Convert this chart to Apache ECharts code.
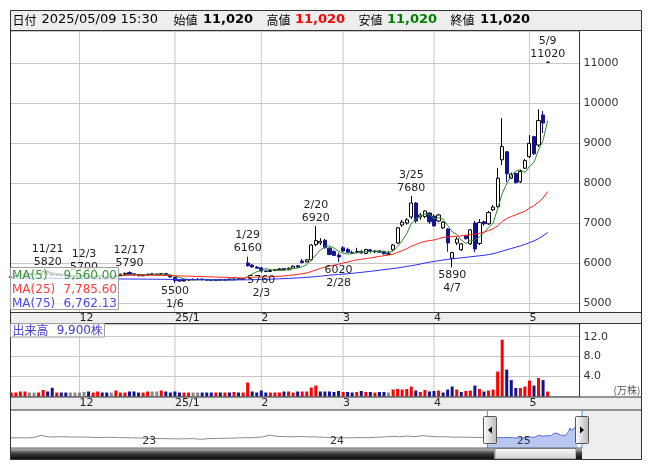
<!DOCTYPE html>
<html><head><meta charset="utf-8">
<script src="https://cdn.jsdelivr.net/npm/echarts@6/dist/echarts.min.js"></script>
<style>html,body{margin:0;padding:0;background:#fff}#c{width:653px;height:470px}</style>
</head><body><div id="c"></div>
<script>
// ---------------- data ----------------
const dates = [
'2024/11/11','2024/11/12','2024/11/13','2024/11/14','2024/11/15','2024/11/18','2024/11/19','2024/11/20','2024/11/21','2024/11/22','2024/11/25','2024/11/26','2024/11/27','2024/11/28','2024/11/29',
'2024/12/02','2024/12/03','2024/12/04','2024/12/05','2024/12/06','2024/12/09','2024/12/10','2024/12/11','2024/12/12','2024/12/13','2024/12/16','2024/12/17','2024/12/18','2024/12/19','2024/12/20','2024/12/23','2024/12/24','2024/12/25','2024/12/26','2024/12/27','2024/12/30',
'2025/01/06','2025/01/07','2025/01/08','2025/01/09','2025/01/10','2025/01/14','2025/01/15','2025/01/16','2025/01/17','2025/01/20','2025/01/21','2025/01/22','2025/01/23','2025/01/24','2025/01/27','2025/01/28','2025/01/29','2025/01/30','2025/01/31',
'2025/02/03','2025/02/04','2025/02/05','2025/02/06','2025/02/07','2025/02/10','2025/02/12','2025/02/13','2025/02/14','2025/02/17','2025/02/18','2025/02/19','2025/02/20','2025/02/21','2025/02/25','2025/02/26','2025/02/27','2025/02/28',
'2025/03/03','2025/03/04','2025/03/05','2025/03/06','2025/03/07','2025/03/10','2025/03/11','2025/03/12','2025/03/13','2025/03/14','2025/03/17','2025/03/18','2025/03/19','2025/03/21','2025/03/24','2025/03/25','2025/03/26','2025/03/27','2025/03/28','2025/03/31',
'2025/04/01','2025/04/02','2025/04/03','2025/04/04','2025/04/07','2025/04/08','2025/04/09','2025/04/10','2025/04/11','2025/04/14','2025/04/15','2025/04/16','2025/04/17','2025/04/18','2025/04/21','2025/04/22','2025/04/23','2025/04/24','2025/04/25','2025/04/28','2025/04/30',
'2025/05/01','2025/05/02','2025/05/07','2025/05/08','2025/05/09'];
const timeOfDay = '15:30';

const opens = [5640,5660,5680,5700,5720,5710,5720,5740,5790,5750,5700,5710,5690,5670,5670,
5660,5670,5670,5650,5660,5680,5660,5650,5660,5690,5720,5760,5730,5710,5680,5700,5730,5720,5720,5740,5690,
5640,5570,5550,5570,5590,5590,5600,5590,5570,5560,5590,5570,5600,5580,5610,5590,6000,5950,5900,
5880,5800,5790,5810,5830,5860,5830,5870,5930,6050,6030,6080,6460,6500,6570,6370,6290,6200,
6380,6340,6260,6270,6290,6240,6330,6280,6300,6290,6220,6330,6500,6950,7000,7150,7500,7150,7160,7250,
7170,7050,6880,6850,6120,6500,6330,6680,6480,7000,6490,7030,6980,7330,7410,8580,8780,8120,8240,8030,8370,
8660,9160,8950,9700,11020];
const highs = [5680,5700,5720,5740,5740,5730,5760,5800,5820,5760,5720,5720,5700,5690,5680,
5680,5700,5680,5670,5690,5690,5670,5670,5700,5730,5760,5790,5740,5720,5710,5730,5740,5730,5750,5750,5700,
5650,5590,5590,5600,5610,5620,5610,5600,5590,5600,5600,5600,5610,5610,5620,5620,6160,5970,5920,
5900,5830,5830,5850,5870,5870,5890,5940,5950,6100,6100,6470,6920,6620,6600,6400,6320,6260,
6420,6380,6310,6380,6330,6350,6350,6320,6330,6310,6300,6470,6900,7080,7120,7680,7520,7250,7320,7270,
7220,7230,7050,6870,6280,6650,6500,6700,6850,7050,7100,7060,7300,7450,8370,9620,8800,8260,8260,8330,8600,
9200,9180,9840,9800,11020];
const lows = [5620,5650,5670,5690,5700,5700,5710,5730,5750,5690,5680,5680,5660,5660,5650,
5650,5660,5640,5640,5650,5650,5640,5640,5650,5680,5710,5710,5690,5670,5670,5690,5710,5700,5710,5690,5640,
5500,5530,5540,5560,5570,5580,5570,5560,5550,5550,5560,5560,5570,5570,5580,5580,5910,5890,5860,
5760,5770,5780,5800,5820,5810,5820,5860,5880,5990,6010,6060,6420,6450,6360,6200,6170,6020,
6280,6250,6230,6250,6230,6220,6260,6250,6250,6210,6210,6310,6480,6900,6960,7100,7000,7080,7120,6980,
6900,7020,6850,6280,5890,6450,6300,6580,6450,6270,6450,6930,6950,7300,7380,8450,8020,8100,7990,8000,8350,
8620,8700,8900,9250,11020];
const closes = [5660,5680,5700,5720,5720,5720,5740,5790,5760,5700,5710,5690,5670,5670,5670,
5670,5670,5650,5660,5680,5660,5650,5650,5690,5720,5740,5720,5700,5680,5700,5720,5720,5720,5730,5700,5650,
5560,5550,5570,5590,5590,5590,5580,5570,5560,5580,5570,5590,5580,5600,5590,5610,5930,5900,5870,
5800,5790,5810,5830,5850,5830,5870,5920,5900,6010,6080,6450,6560,6540,6380,6210,6190,6150,
6300,6270,6250,6290,6250,6340,6290,6300,6270,6230,6230,6450,6880,7020,7080,7500,7050,7200,7300,7030,
6930,7200,7020,6500,6260,6600,6480,6610,6830,6350,7010,6980,7260,7400,8120,8910,8230,8220,8010,8290,8560,
8990,8730,9560,9500,11020];
// volume in 万株
const volumes = [0.8,0.8,1.0,1.0,0.8,0.8,0.8,1.3,1.0,1.75,
0.8,0.8,0.8,0.8,0.8,0.8,0.9,1.0,0.8,1.0,
0.8,0.8,0.8,1.2,0.8,0.8,1.0,1.0,0.8,0.8,
1.0,1.0,1.0,1.2,1.0,0.8,1.0,0.8,0.8,0.8,
0.8,0.8,0.8,0.8,0.8,0.8,0.8,0.8,0.8,0.9,
0.8,0.8,2.8,1.0,0.8,1.2,0.8,0.8,0.8,0.8,
1.0,1.0,0.8,1.0,1.0,1.0,1.8,2.2,1.0,1.0,
1.0,0.9,1.1,0.9,0.9,0.8,0.9,1.1,0.9,0.9,
0.8,0.9,0.9,0.8,1.4,1.5,1.4,1.5,2.0,1.2,
0.9,1.3,1.0,1.1,1.2,0.8,1.4,2.0,1.4,0.9,
1.1,1.2,2.2,1.5,1.0,1.2,1.4,5.0,11.4,5.4,
3.3,1.7,1.7,2.0,3.2,2.2,3.7,3.3,0.99];
// 75-day moving average
const ma75 = [5622,5622,5621,5621,5620,5620,5619,5619,5618,5617,
5616,5615,5614,5613,5612,5611,5610,5608,5607,5606,
5605,5604,5603,5602,5601,5600,5599,5598,5598,5597,
5596,5595,5594,5593,5592,5590,5588,5587,5586,5585,
5584,5583,5582,5581,5580,5580,5579,5579,5578,5578,
5578,5578,5580,5582,5585,5588,5592,5596,5600,5605,
5610,5615,5620,5626,5633,5641,5650,5660,5671,5683,
5695,5705,5714,5722,5730,5742,5754,5766,5779,5792,
5805,5820,5834,5848,5862,5877,5895,5913,5932,5951,
5975,5999,6020,6040,6058,6074,6089,6104,6117,6129,
6142,6155,6168,6180,6193,6210,6232,6262,6296,6330,
6362,6394,6428,6466,6508,6553,6610,6680,6762.13];
const highMarks = ['2024/11/21','2024/12/03','2024/12/17','2025/01/29','2025/02/20','2025/03/25','2025/05/09'];
const lowMarks = ['2025/01/06','2025/02/03','2025/02/28','2025/04/07'];
// navigator: long history sampled every 10 trading days, then the shown range
const navHistory = [5600,5620,5580,5700,6400,5900,5950,6000,5850,5900,5850,5700,5750,5800,5700,5650,5600,5550,5400,5350,5350,5300,5250,5300,5350,5100,5350,5400,5450,5500,5600,5650,5700,5900,6500,6100,6000,5950,6050,5950,5900,5800,5700,5650,5600,5650,5700,5650,5800,5900,6100,5950,6200,6000,6350,6100,5950,6000,5800,5850,5800,5750,5700];
const navYearLabels = ['23','24','25'];
const navYearTicks = [170,416,661];
const NAV_STEP = 10, NAV_OFFSET = 625, NAV_LEN = 750;
const BLANK_SLOTS = 6;

// ---------------- derived ----------------
const N = dates.length;
const cats = dates.concat(Array.from({length: BLANK_SLOTS}, (_, k) => 'blank' + k));
const monthStart = cats.map((d, i) => i > 0 && i < N && d.slice(5, 7) !== dates[i - 1].slice(5, 7));
const monthFn = (i) => !!monthStart[i];
const monthLabel = (i) => {
  if (!monthStart[i]) return '';
  const m = +dates[i].slice(5, 7);
  return m === 1 ? dates[i].slice(2, 4) + '/1' : String(m);
};
function sma(n) {
  return closes.map((c, i) => {
    if (i < n - 1) return null;
    let s = 0; for (let k = i - n + 1; k <= i; k++) s += closes[k];
    return s / n;
  });
}
const ma5 = sma(5), ma25 = sma(25);
const md = (d) => (+d.slice(5, 7)) + '/' + (+d.slice(8, 10));
const fmt2 = (v) => v.toLocaleString('en-US', {minimumFractionDigits: 2, maximumFractionDigits: 2});
const fmt0 = (v) => Math.round(v).toLocaleString('en-US');

const RED = '#ff0000', BLUE = '#14148c', GRAY = '#8a8a8a';
const volColor = (i) => {
  if (i === 0) return closes[0] >= opens[0] ? RED : BLUE;
  return closes[i] > closes[i - 1] ? RED : (closes[i] < closes[i - 1] ? BLUE : GRAY);
};
const candleData = dates.map((d, i) => [opens[i], closes[i], lows[i], highs[i]]);
const markData = highMarks.map(d => {
  const i = dates.indexOf(d);
  return {coord: [d, highs[i]], label: {position: 'top', formatter: md(d) + '\n' + highs[i]}};
}).concat(lowMarks.map(d => {
  const i = dates.indexOf(d);
  return {coord: [d, lows[i]], label: {position: 'bottom', formatter: lows[i] + '\n' + md(d)}};
}));

const navCats = Array.from({length: NAV_LEN}, (_, i) => 'n' + i);
const navHist = new Array(NAV_LEN).fill(null);
navHistory.forEach((v, k) => { navHist[k * NAV_STEP] = v; });
navHist[NAV_OFFSET] = closes[0];
const navSel = new Array(NAV_LEN).fill(null);
closes.forEach((c, i) => { navSel[NAV_OFFSET + i] = c; });

const PRICE_MIN = 4775, PRICE_MAX = 11800, VOL_MAX = 14.55, NAV_MIN = 2200, NAV_MAX = 14600;
// full-height marker bars used as vertical grid lines at month starts / navigator range edges
const monthBarsPrice = cats.map((c, i) => monthStart[i] ? PRICE_MAX : null);
const monthBarsVol = cats.map((c, i) => monthStart[i] ? VOL_MAX : null);
const navEdgeBars = navCats.map((c, k) => (k === NAV_OFFSET || k === NAV_LEN - 1) ? NAV_MAX : null);

const L = N - 1;
const GRID = '#c8c8c8';
const FONT = '"DejaVu Sans", sans-serif';
const JFONT = '"Noto Sans CJK JP", sans-serif';

function txt(x, y, text, fill, font, align) {
  return {type: 'text', x: x, y: y, z: 30,
    style: {text: text, fill: fill, font: font, textAlign: align || 'left', textVerticalAlign: 'middle', align: align || 'left', verticalAlign: 'middle'}};
}
function hline(y, x1, x2, c) { return {type: 'line', z: 20, shape: {x1: x1, y1: y, x2: x2, y2: y}, style: {stroke: c || '#333', lineWidth: 1}}; }
function vline(x, y1, y2, c) { return {type: 'line', z: 20, shape: {x1: x, y1: y1, x2: x, y2: y2}, style: {stroke: c || '#333', lineWidth: 1}}; }
const darkGrad = {type: 'linear', x: 0, y: 0, x2: 0, y2: 1, colorStops: [{offset: 0, color: '#c8c8c8'}, {offset: 0.5, color: '#3a3a3a'}, {offset: 1, color: '#0a0a0a'}]};
const thumbGrad = {type: 'linear', x: 0, y: 0, x2: 0, y2: 1, colorStops: [{offset: 0, color: '#fbfbfb'}, {offset: 1, color: '#cfcfcf'}]};
const handleGrad = {type: 'linear', x: 0, y: 0, x2: 1, y2: 0, colorStops: [{offset: 0, color: '#ffffff'}, {offset: 1, color: '#b8b8b8'}]};

const graphics = [
  {type: 'rect', z: -1, shape: {x: 10.5, y: 10.5, width: 631, height: 19.5}, style: {fill: '#eeeeee'}},
  {type: 'rect', z: -1, shape: {x: 10.5, y: 312.5, width: 631, height: 11}, style: {fill: '#eeeeee'}},
  {type: 'rect', z: -1, shape: {x: 10.5, y: 397, width: 631, height: 13}, style: {fill: '#eeeeee'}},
  {type: 'rect', z: -1, shape: {x: 582, y: 410, width: 59.5, height: 49.5}, style: {fill: '#eeeeee'}},
  {type: 'rect', z: 20, shape: {x: 10.5, y: 448, width: 484, height: 11.5}, style: {fill: darkGrad}},
  {type: 'rect', z: 20, shape: {x: 495, y: 448.5, width: 81, height: 10.5}, style: {fill: thumbGrad, stroke: '#8a8a8a', lineWidth: 1}},
  {type: 'rect', z: 20, shape: {x: 576, y: 448, width: 6, height: 11.5}, style: {fill: darkGrad}},
  hline(30.5, 10.5, 641.5), hline(312.5, 10.5, 641.5), hline(323.5, 10.5, 641.5),
  hline(397, 10.5, 641.5), hline(410, 10.5, 641.5), hline(448, 10.5, 582, '#666'),
  vline(579.5, 30.5, 312.5), vline(579.5, 323.5, 397),
  {type: 'rect', z: 21, shape: {x: 10.5, y: 10.5, width: 631, height: 449}, style: {fill: 'none', stroke: '#333', lineWidth: 1}},
  txt(12.5, 20, '日付', '#000', '12px ' + JFONT),
  txt(41.5, 20, dates[L] + ' ' + timeOfDay, '#000', '13px ' + FONT),
  txt(173.5, 20, '始値', '#000', '12px ' + JFONT),
  txt(203, 20, fmt0(opens[L]), '#000', 'bold 13px ' + FONT),
  txt(266.5, 20, '高値', '#000', '12px ' + JFONT),
  txt(295, 20, fmt0(highs[L]), '#ff0000', 'bold 13px ' + FONT),
  txt(358.5, 20, '安値', '#000', '12px ' + JFONT),
  txt(387, 20, fmt0(lows[L]), '#008000', 'bold 13px ' + FONT),
  txt(450.5, 20, '終値', '#000', '12px ' + JFONT),
  txt(480, 20, fmt0(closes[L]), '#000', 'bold 13px ' + FONT),
  {type: 'rect', z: 25, shape: {x: 10.5, y: 267.5, width: 108, height: 42}, style: {fill: 'rgba(255,255,255,0.72)', stroke: '#a0a0a0', lineWidth: 1}},
  txt(12, 276, 'MA(5)', '#3c963c', '12px ' + FONT),
  txt(117, 276, fmt2(ma5[L]), '#3c963c', '12px ' + FONT, 'right'),
  txt(12, 290, 'MA(25)', '#ff3c3c', '12px ' + FONT),
  txt(117, 290, fmt2(ma25[L]), '#ff3c3c', '12px ' + FONT, 'right'),
  txt(12, 303.5, 'MA(75)', '#4a4af0', '12px ' + FONT),
  txt(117, 303.5, fmt2(ma75[L]), '#4a4af0', '12px ' + FONT, 'right'),
  {type: 'rect', z: 25, shape: {x: 10.5, y: 323.5, width: 94, height: 13.5}, style: {fill: 'rgba(255,255,255,0.8)', stroke: '#a0a0a0', lineWidth: 1}},
  txt(12.5, 330.5, '出来高', '#4040c0', '12px ' + JFONT),
  txt(103, 330.5, fmt0(volumes[L] * 10000) + '株', '#4040c0', '12px ' + FONT, 'right'),
  txt(627, 390.5, '(万株)', '#555', '10px ' + JFONT, 'center'),
  {type: 'rect', z: 26, shape: {x: 483.5, y: 416.5, width: 13, height: 27, r: 1}, style: {fill: handleGrad, stroke: '#555', lineWidth: 1}},
  {type: 'polygon', z: 27, shape: {points: [[488, 430], [492, 426.5], [492, 433.5]]}, style: {fill: '#000'}},
  {type: 'rect', z: 26, shape: {x: 575.5, y: 416.5, width: 13, height: 27, r: 1}, style: {fill: handleGrad, stroke: '#555', lineWidth: 1}},
  {type: 'polygon', z: 27, shape: {points: [[584, 430], [580, 426.5], [580, 433.5]]}, style: {fill: '#000'}}
];

const catXAxis = (gi, showLabels) => ({
  gridIndex: gi, type: 'category', data: cats, boundaryGap: false, show: showLabels,
  axisLine: {show: false}, axisTick: {show: false},
  splitLine: {show: false},
  axisLabel: {show: showLabels, interval: monthFn, formatter: (v, i) => monthLabel(i), align: 'left', margin: 1,
    fontSize: 11, fontFamily: FONT, color: '#222'}
});

const GRIDS = [
  {left: 10.5, right: 73.5, top: 31, height: 281},
  {left: 11.3, right: 78.1, top: 31, height: 281},
  {left: 10.5, right: 73.5, top: 324, height: 72.5},
  {left: 11.3, right: 78.1, top: 324, height: 72.5},
  {left: 10.5, right: 71, top: 411, height: 37}
];

const option = {
  animation: false,
  backgroundColor: '#ffffff',
  textStyle: {fontFamily: FONT},
  grid: GRIDS.map(g => Object.assign({containLabel: false, outerBoundsMode: 'none'}, g)),
  xAxis: [
    {gridIndex: 0, type: 'value', min: 0, max: 1, show: false},
    catXAxis(1, true),
    {gridIndex: 2, type: 'value', min: 0, max: 1, show: false},
    catXAxis(3, true),
    {gridIndex: 4, type: 'category', data: navCats, boundaryGap: false, z: 10,
     axisLine: {show: false}, axisTick: {show: false}, splitLine: {show: false},
     axisLabel: {inside: true, interval: (i) => navYearTicks.indexOf(i) >= 0,
       formatter: (v, i) => { const k = navYearTicks.indexOf(i); return k >= 0 ? navYearLabels[k] : ''; },
       align: 'left', margin: 1, padding: [0, 0, 0, 2], fontSize: 11, fontFamily: FONT, color: '#333'}},
    // hidden twins for the grid-line bars (separate bar layout)
    catXAxis(1, false),
    catXAxis(3, false),
    {gridIndex: 4, type: 'category', data: navCats, boundaryGap: false, show: false}
  ],
  yAxis: [
    {gridIndex: 0, type: 'value', min: PRICE_MIN, max: PRICE_MAX, minInterval: 1000, maxInterval: 1000, position: 'right',
     axisLine: {show: false}, axisTick: {show: false},
     splitLine: {show: true, lineStyle: {color: GRID, width: 1}},
     axisLabel: {margin: 4, fontSize: 11, fontFamily: FONT, color: '#333',
       formatter: (v) => (Math.abs(v % 1000) < 1e-6 ? String(v) : '')}},
    {gridIndex: 1, type: 'value', min: PRICE_MIN, max: PRICE_MAX, show: false, splitLine: {show: false}},
    {gridIndex: 2, type: 'value', min: 0, max: VOL_MAX, interval: 4, position: 'right',
     axisLine: {show: false}, axisTick: {show: false},
     splitLine: {show: true, lineStyle: {color: GRID, width: 1}},
     axisLabel: {margin: 4, fontSize: 11, fontFamily: FONT, color: '#333',
       formatter: (v) => ((v === 4 || v === 8 || v === 12) ? v.toFixed(1) : '')}},
    {gridIndex: 3, type: 'value', min: 0, max: VOL_MAX, show: false, splitLine: {show: false}},
    {gridIndex: 4, type: 'value', min: NAV_MIN, max: NAV_MAX, show: false, splitLine: {show: false}}
  ],
  series: [
    {type: 'bar', xAxisIndex: 5, yAxisIndex: 1, data: monthBarsPrice, barWidth: 1, z: 1, silent: true,
     itemStyle: {color: GRID}},
    {type: 'bar', xAxisIndex: 6, yAxisIndex: 3, data: monthBarsVol, barWidth: 1, z: 1, silent: true,
     itemStyle: {color: GRID}},
    {type: 'candlestick', xAxisIndex: 1, yAxisIndex: 1, data: candleData, barWidth: 3.6, z: 3,
     itemStyle: {color: '#ffffff', color0: BLUE, borderColor: '#000000', borderColor0: BLUE, borderWidth: 1},
     markPoint: {symbol: 'circle', symbolSize: 1, itemStyle: {color: 'rgba(0,0,0,0)'}, animation: false,
       label: {show: true, color: '#222', fontSize: 11, fontFamily: FONT, lineHeight: 13, distance: 1},
       data: markData}},
    {type: 'line', name: 'MA5', xAxisIndex: 1, yAxisIndex: 1, data: ma5, symbol: 'none', z: 4,
     lineStyle: {color: '#2d882d', width: 1}},
    {type: 'line', name: 'MA25', xAxisIndex: 1, yAxisIndex: 1, data: ma25, symbol: 'none', z: 4,
     lineStyle: {color: '#ff2020', width: 1}},
    {type: 'line', name: 'MA75', xAxisIndex: 1, yAxisIndex: 1, data: ma75, symbol: 'none', z: 4,
     lineStyle: {color: '#2828ff', width: 1}},
    {type: 'bar', xAxisIndex: 3, yAxisIndex: 3, barWidth: 3, z: 3,
     data: volumes.map((v, i) => ({value: v, itemStyle: {color: volColor(i)}}))},
    {type: 'line', xAxisIndex: 4, yAxisIndex: 4, data: navHist, connectNulls: true, symbol: 'none', z: 3,
     lineStyle: {color: '#8c8c8c', width: 1}},
    {type: 'line', xAxisIndex: 4, yAxisIndex: 4, data: navSel, symbol: 'none', z: 3,
     lineStyle: {color: '#5b6bd6', width: 1},
     areaStyle: {color: '#b9c7f3', opacity: 1, origin: 'start'}},
    {type: 'bar', xAxisIndex: 7, yAxisIndex: 4, data: navEdgeBars, barWidth: 1, z: 5, silent: true,
     itemStyle: {color: '#2aa0e0'}}
  ],
  graphic: {elements: graphics}
};

const chart = echarts.init(document.getElementById('c'), null, {renderer: 'canvas', width: 653, height: 470});
chart.setOption(option);
</script>
</body></html>
